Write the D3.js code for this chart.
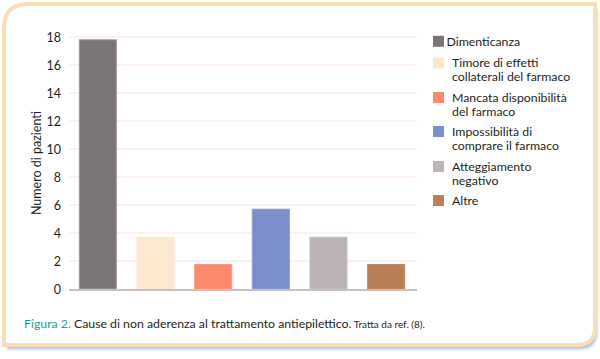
<!DOCTYPE html>
<html><head><meta charset="utf-8">
<script src="https://cdn.jsdelivr.net/npm/d3@7"></script>
<style>
html,body{margin:0;padding:0;background:#fff;}
svg{display:block;font-family:"Lato","Open Sans",sans-serif;}
</style></head>
<body>
<svg id="c" width="600" height="359"></svg>
<script>
const categories = ["Dimenticanza","Timore di effetti collaterali del farmaco","Mancata disponibilità del farmaco","Impossibilità di comprare il farmaco","Atteggiamento negativo","Altre"];
const legendLines = [["Dimenticanza"],["Timore di effetti","collaterali del farmaco"],["Mancata disponibilità","del farmaco"],["Impossibilità di","comprare il farmaco"],["Atteggiamento","negativo"],["Altre"]];
const values = [17.8, 3.7, 1.75, 5.7, 3.7, 1.75];
const colors = ["#7b7475","#fde8cf","#fe8a6d","#7c8dcb","#bcb3b4","#b97f57"];
const strokes = ["#a39c9c","#fde8cf","#fe9a80","#8d9cd5","#c8c0c1","#c08a65"];
const yTicks = [0,2,4,6,8,10,12,14,16,18];
const yTitle = "Numero di pazienti";
const captionLead = "Figura 2.";
const captionMain = " Cause di non aderenza al trattamento antiepilettico.";
const captionRef = " Tratta da ref. (8).";

const svg = d3.select("#c");
const defs = svg.append("defs");
defs.append("filter").attr("id","blur").append("feGaussianBlur").attr("stdDeviation",1.6);

function framePath(x0,y0,x1,y1,rtl,rbr){
  return `M${x0},${y0+rtl} Q${x0},${y0} ${x0+rtl},${y0} L${x1},${y0} L${x1},${y1-rbr} Q${x1},${y1} ${x1-rbr},${y1} L${x0},${y1} Z`;
}
svg.append("path").attr("d",framePath(7,9,597,349,24,18)).attr("fill","#9fbde2").attr("filter","url(#blur)");
svg.append("path").attr("d",framePath(4,4,595,345,24,18)).attr("fill","#fff").attr("stroke","#fddcb8").attr("stroke-width",4);

const x = d3.scaleBand().domain(categories).range([69,415]).paddingInner(0.34).paddingOuter(0.17);
const y = d3.scaleLinear().domain([0,18]).range([289,37]);

svg.append("g").selectAll("line").data(yTicks.filter(d=>d>0)).join("line")
  .attr("x1",69).attr("x2",417).attr("y1",d=>y(d)).attr("y2",d=>y(d))
  .attr("stroke","#fde3de").attr("stroke-width",1);

const yAxis = d3.axisLeft(y).tickValues(yTicks).tickSize(0).tickPadding(0);
const ga = svg.append("g").attr("transform","translate(61,0)").call(yAxis);
ga.select(".domain").remove();
ga.selectAll("text").attr("font-size",12.5).attr("fill","#231f20").attr("font-family","Lato, sans-serif");

svg.append("text").attr("transform",`translate(41,${y(9)}) rotate(-90)`)
  .attr("text-anchor","middle").attr("font-size",12.5).attr("fill","#231f20").text(yTitle);

svg.append("g").selectAll("rect").data(values).join("rect")
  .attr("x",(d,i)=>x(categories[i])+0.5).attr("width",x.bandwidth()-1)
  .attr("y",d=>y(d)).attr("height",d=>y(0)-y(d))
  .attr("fill",(d,i)=>colors[i]).attr("stroke",(d,i)=>strokes[i]).attr("stroke-width",1);

svg.append("line").attr("x1",69).attr("x2",417).attr("y1",y(0)+1).attr("y2",y(0)+1)
  .attr("stroke","#c9c0c1").attr("stroke-width",2);

const legY = [41.3,63,97.5,131.5,166.5,200.5];
const lg = svg.append("g");
legendLines.forEach((lines,i)=>{
  lg.append("rect").attr("x",433).attr("y",legY[i]-5.5).attr("width",11).attr("height",11).attr("fill",colors[i]);
  const t = lg.append("text").attr("x", i===0?446.5:452).attr("y",legY[i])
    .attr("font-size",12.3).attr("fill","#231f20");
  lines.forEach((l,j)=>{
    t.append("tspan").attr("x",i===0?446.5:452).attr("dy",j===0?"0.35em":"13.8px").text(l);
  });
});

const cap = svg.append("text").attr("x",24).attr("y",328).attr("font-size",12.3).attr("fill","#231f20");
cap.append("tspan").attr("fill","#17a38f").text(captionLead);
cap.append("tspan").text(captionMain);
cap.append("tspan").attr("font-size",10).text(captionRef);
</script>
</body></html>
